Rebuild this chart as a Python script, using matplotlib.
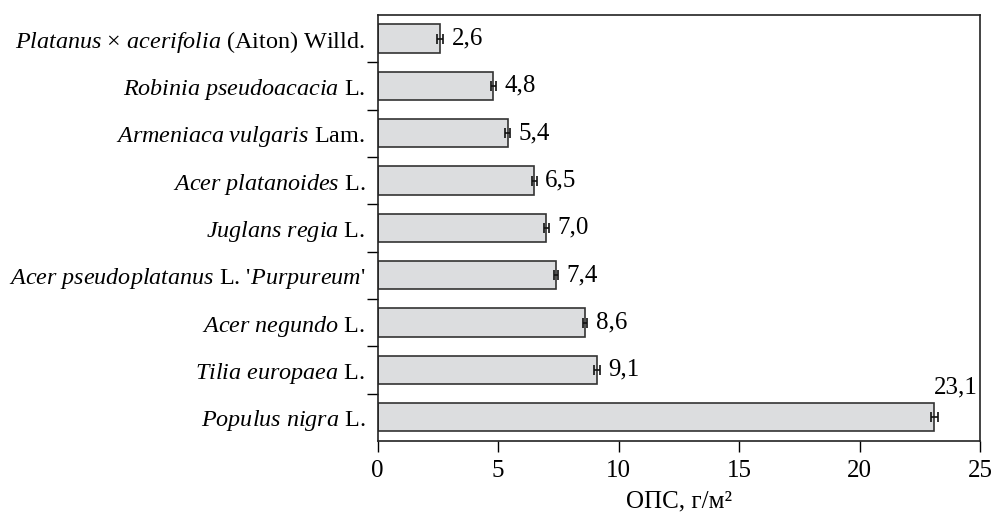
import matplotlib
matplotlib.use("Agg")
import matplotlib.pyplot as plt
from matplotlib.ticker import FixedLocator, NullFormatter

# ----------------------------------------
# Data (bottom to top)
# ----------------------------------------
species = [
    r"$\mathit{Populus\ nigra}$ L.",
    r"$\mathit{Tilia\ europaea}$ L.",
    r"$\mathit{Acer\ negundo}$ L.",
    r"$\mathit{Acer\ pseudoplatanus}$ L. '$\mathit{Purpureum}$'",
    r"$\mathit{Juglans\ regia}$ L.",
    r"$\mathit{Acer\ platanoides}$ L.",
    r"$\mathit{Armeniaca\ vulgaris}$ Lam.",
    r"$\mathit{Robinia\ pseudoacacia}$ L.",
    r"$\mathit{Platanus}$ × $\mathit{acerifolia}$ (Aiton) Willd.",
]
values = [23.1, 9.1, 8.6, 7.4, 7.0, 6.5, 5.4, 4.8, 2.6]
errors = [0.15, 0.12, 0.1, 0.1, 0.1, 0.1, 0.1, 0.1, 0.12]
value_labels = ["23,1", "9,1", "8,6", "7,4", "7,0", "6,5", "5,4", "4,8", "2,6"]
x_ticks = [0, 5, 10, 15, 20, 25]

# ----------------------------------------
# Fonts
# ----------------------------------------
plt.rcParams["font.family"] = ["Liberation Serif", "DejaVu Serif"]
plt.rcParams["mathtext.fontset"] = "custom"
plt.rcParams["mathtext.rm"] = "Liberation Serif"
plt.rcParams["mathtext.it"] = "Liberation Serif:italic"

fig = plt.figure(figsize=(9.94, 5.12), dpi=100)
ax = fig.add_axes([0.380, 0.139, 0.606, 0.832])

pos = list(range(len(species)))
ax.barh(pos, values, height=0.6, color="#dcdddf", edgecolor="#333333", linewidth=1.2, zorder=2)
ax.errorbar(values, pos, xerr=errors, fmt="none", ecolor="#111111", elinewidth=1.2,
            capsize=3.5, capthick=1.2, zorder=3)

# value labels
for i, (v, e, lab) in enumerate(zip(values, errors, value_labels)):
    if v > 20:
        ax.text(v + e + 0.75, i + 0.62, lab, ha="center", va="center", fontsize=18)
    else:
        ax.text(v + e + 0.35, i, lab, ha="left", va="center", fontsize=18)

ax.set_xlim(0, 25)
ax.set_ylim(-0.5, len(species) - 0.5)
ax.set_xticks(x_ticks)
ax.set_xticklabels([str(t) for t in x_ticks], fontsize=18)
ax.set_yticks(pos)
ax.set_yticklabels(species, fontsize=17.4)
ax.tick_params(axis="y", which="major", length=0, pad=9)
ax.yaxis.set_minor_locator(FixedLocator([p + 0.5 for p in pos[:-1]]))
ax.yaxis.set_minor_formatter(NullFormatter())
ax.tick_params(axis="y", which="minor", length=8, width=1, direction="out")
ax.tick_params(axis="x", length=8, width=1, direction="out", pad=6)

for s in ax.spines.values():
    s.set_linewidth(1.2)
    s.set_color("#222222")

ax.set_xlabel("ОПС, г/м²", fontsize=18, labelpad=6)

fig.savefig("out.png", dpi=100)
